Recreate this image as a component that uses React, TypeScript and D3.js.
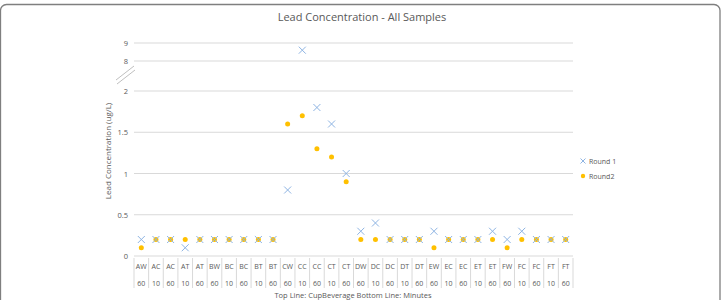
import React from 'react';
import * as d3 from 'd3';

// Sample codes (top row) and soak minutes (bottom row)
const cupBeverage = ['AW', 'AC', 'AC', 'AT', 'AT', 'BW', 'BC', 'BC', 'BT', 'BT', 'CW', 'CC', 'CC', 'CT', 'CT', 'DW', 'DC', 'DC', 'DT', 'DT', 'EW', 'EC', 'EC', 'ET', 'ET', 'FW', 'FC', 'FC', 'FT', 'FT'];
const minutes = ['60', '10', '60', '10', '60', '60', '10', '60', '10', '60', '60', '10', '60', '10', '60', '60', '10', '60', '10', '60', '60', '10', '60', '10', '60', '60', '10', '60', '10', '60'];

const round1 = [0.2, 0.2, 0.2, 0.1, 0.2, 0.2, 0.2, 0.2, 0.2, 0.2, 0.8, 8.6, 1.8, 1.6, 1.0, 0.3, 0.4, 0.2, 0.2, 0.2, 0.3, 0.2, 0.2, 0.2, 0.3, 0.2, 0.3, 0.2, 0.2, 0.2];
const round2 = [0.1, 0.2, 0.2, 0.2, 0.2, 0.2, 0.2, 0.2, 0.2, 0.2, 1.6, 1.7, 1.3, 1.2, 0.9, 0.2, 0.2, 0.2, 0.2, 0.2, 0.1, 0.2, 0.2, 0.2, 0.2, 0.1, 0.2, 0.2, 0.2, 0.2];

// broken axis: 0–2 on the lower part, 8–9 above the break
const yTicks = [0, 0.5, 1, 1.5, 2, 8, 9];

const W = 724;
const H = 300;
const FONT = "'Open Sans', 'Liberation Sans', sans-serif";
const TEXT = '#595959';
const GRID = '#d9d9d9';
const BLUE = '#8eb4e3';
const GOLD = '#ffc000';

export default function App() {
  const plot = { left: 134, right: 573, top: 43, bottom: 256 };

  const x = d3.scaleBand<number>()
    .domain(d3.range(cupBeverage.length))
    .range([plot.left, plot.right]);

  const y = d3.scaleLinear()
    .domain([0, 2, 8, 9])
    .range([256, 91, 61, 43]);

  const cx = (i: number) => (x(i) ?? 0) + x.bandwidth() / 2;
  const cross = (px: number, py: number, s = 3.5) =>
    `M${px - s},${py - s}L${px + s},${py + s}M${px - s},${py + s}L${px + s},${py - s}`;

  return (
    <svg width={W} height={H} style={{ position: 'absolute', left: 0, top: 0, display: 'block' }}>
      <rect x={0} y={0} width={W} height={H} fill="#fff" />
      <rect x={0.5} y={4.5} width={719.5} height={310} rx={6} fill="#fff" stroke="#7f7f7f" strokeWidth={1.3} />

      <text x={362} y={21} textAnchor="middle" fontFamily={FONT} fontSize={11} fill={TEXT}>
        Lead Concentration - All Samples
      </text>

      {/* gridlines and tick labels */}
      {yTicks.map(t => (
        <g key={t}>
          <line x1={plot.left} x2={plot.right} y1={y(t)} y2={y(t)} stroke={GRID} strokeWidth={1} />
          <text x={128} y={y(t) + 3} textAnchor="end" fontFamily={FONT} fontSize={7.5} fill={TEXT}>{t}</text>
        </g>
      ))}

      {/* break marks between 2 and 8 */}
      <line x1={116} y1={80} x2={134} y2={66} stroke="#bfbfbf" strokeWidth={1} />
      <line x1={117} y1={84} x2={135} y2={70} stroke="#bfbfbf" strokeWidth={1} />

      <text transform="translate(111,151) rotate(-90)" textAnchor="middle"
        fontFamily={FONT} fontSize={8} fill={TEXT}>
        Lead Concentration (ug/L)
      </text>

      {/* two-row category table */}
      {d3.range(cupBeverage.length + 1).map(i => {
        const lx = i < cupBeverage.length ? (x(i) ?? 0) : plot.right;
        return <line key={i} x1={lx} x2={lx} y1={plot.bottom + 2} y2={288} stroke={GRID} strokeWidth={1} />;
      })}
      {cupBeverage.map((c, i) => (
        <g key={i}>
          <text x={cx(i)} y={269} textAnchor="middle" fontFamily={FONT} fontSize={7} fill={TEXT}>{c}</text>
          <text x={cx(i)} y={286} textAnchor="middle" fontFamily={FONT} fontSize={7} fill={TEXT}>{minutes[i]}</text>
        </g>
      ))}
      <text x={353} y={298} textAnchor="middle" fontFamily={FONT} fontSize={7.5} fill={TEXT}>
        Top Line: CupBeverage Bottom Line: Minutes
      </text>

      {/* Round2 dots under Round 1 crosses */}
      {round2.map((v, i) => (
        <circle key={`r2-${i}`} cx={cx(i)} cy={y(v)} r={2.5} fill={GOLD} />
      ))}
      {round1.map((v, i) => (
        <path key={`r1-${i}`} d={cross(cx(i), y(v))} stroke={BLUE} strokeWidth={1} fill="none" />
      ))}

      {/* legend */}
      <path d={cross(583, 161, 2.5)} stroke={BLUE} strokeWidth={1} fill="none" />
      <text x={589} y={164} fontFamily={FONT} fontSize={7} fill={TEXT}>Round 1</text>
      <circle cx={583} cy={176} r={2.2} fill={GOLD} />
      <text x={589} y={179} fontFamily={FONT} fontSize={7} fill={TEXT}>Round2</text>
    </svg>
  );
}
